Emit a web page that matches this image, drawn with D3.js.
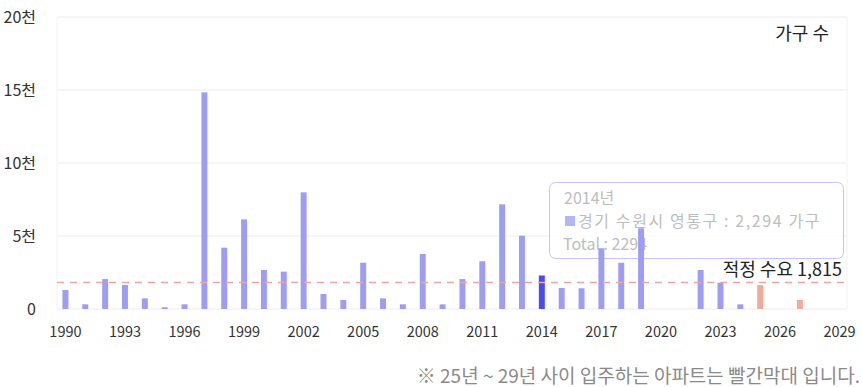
<!DOCTYPE html>
<html>
<head>
<meta charset="utf-8">
<script src="https://cdn.jsdelivr.net/npm/d3@7"></script>
<style>
  body { margin: 0; background: #fff; }
  text { font-family: "Noto Sans CJK KR", "Noto Sans", sans-serif; }
</style>
</head>
<body>
<div class="chart"></div>
<script>
// data
let years = d3.range(1990, 2030);
let households = [1300, 320, 2050, 1650, 730, 120, 320, 14840, 4200, 6140,
  2670, 2560, 7990, 1030, 620, 3170, 730, 320, 3770, 320,
  2050, 3270, 7170, 5020, 2294, 1440, 1420, 4160, 3170, 5530,
  0, 0, 2670, 1800, 320, 1640, 0, 620, 0, 0];
let futureYears = [2025, 2026, 2027, 2028, 2029];
let highlightYear = 2014;
let demand = 1815;
let yTicks = [0, 5000, 10000, 15000, 20000];
let xTickYears = [1990, 1993, 1996, 1999, 2002, 2005, 2008, 2011, 2014, 2017, 2020, 2023, 2026, 2029];

let svgWidth = 862;
let svgHeight = 387;
let plot = { left: 57, right: 847, top: 17, bottom: 309 };

let svg = d3.select(".chart")
    .append("svg")
    .attr("width", svgWidth)
    .attr("height", svgHeight);

let x = d3.scaleBand()
    .domain(years)
    .range([55.5, 849.5])
    .paddingInner(0.7)
    .paddingOuter(0.35);

let y = d3.scaleLinear()
    .domain([0, 20000])
    .range([plot.bottom, plot.top]);

// grid
svg.append("g")
    .selectAll("line")
    .data(yTicks)
    .enter()
    .append("line")
    .attr("x1", plot.left)
    .attr("x2", plot.right)
    .attr("y1", d => y(d))
    .attr("y2", d => y(d))
    .attr("stroke", "#ececec");

svg.append("line")
    .attr("x1", plot.left).attr("x2", plot.left)
    .attr("y1", plot.top).attr("y2", plot.bottom)
    .attr("stroke", "#f2f2f2");
svg.append("line")
    .attr("x1", plot.right).attr("x2", plot.right)
    .attr("y1", plot.top).attr("y2", plot.bottom)
    .attr("stroke", "#f2f2f2");

// y axis
let leftAxis = d3.axisLeft(y)
    .tickValues(yTicks)
    .tickSize(0)
    .tickPadding(0)
    .tickFormat(d => d === 0 ? "0" : (d / 1000) + "천");

svg.append("g")
    .attr("transform", "translate(36, 0)")
    .call(leftAxis)
    .call(g => g.select(".domain").remove())
    .selectAll("text")
    .attr("font-size", 16)
    .attr("fill", "#333")
    .style("font-family", "'Noto Sans CJK KR', sans-serif");

// x axis
let bottomAxis = d3.axisBottom(x)
    .tickValues(xTickYears)
    .tickSize(0)
    .tickPadding(0);

svg.append("g")
    .attr("transform", "translate(0, 327)")
    .call(bottomAxis)
    .call(g => g.select(".domain").remove())
    .selectAll("text")
    .attr("font-size", 14.5)
    .attr("fill", "#333")
    .style("font-family", "'Noto Sans CJK KR', sans-serif");

// tooltip (drawn under bars)
let tipFont = { size: 16, spacing: 1.6, color: "#bdbdbd" };
let tip = svg.append("g");
tip.append("rect")
    .attr("x", 549.5).attr("y", 182.5)
    .attr("width", 294).attr("height", 76)
    .attr("rx", 6)
    .attr("fill", "#fff")
    .attr("fill-opacity", 0.8)
    .attr("stroke", "#c4c4fa");
tip.append("text")
    .attr("x", 564).attr("y", 204)
    .attr("font-size", tipFont.size)
    .attr("fill", tipFont.color)
    .text(highlightYear + "년");
tip.append("rect")
    .attr("x", 565).attr("y", 216)
    .attr("width", 10).attr("height", 10)
    .attr("fill", "#b4b4f8");
tip.append("text")
    .attr("x", 578).attr("y", 227)
    .attr("font-size", tipFont.size)
    .attr("letter-spacing", tipFont.spacing)
    .attr("fill", tipFont.color)
    .text("경기 수원시 영통구 : " + d3.format(",")(households[years.indexOf(highlightYear)]) + " 가구");
tip.append("text")
    .attr("x", 563).attr("y", 250)
    .attr("font-size", tipFont.size)
    .attr("fill", tipFont.color)
    .text("Total : " + households[years.indexOf(highlightYear)]);

// bars
svg.append("g")
    .selectAll("rect")
    .data(years)
    .enter()
    .append("rect")
    .attr("x", d => x(d))
    .attr("width", x.bandwidth())
    .attr("y", (d, i) => y(households[i]))
    .attr("height", (d, i) => y(0) - y(households[i]))
    .attr("fill", d => d === highlightYear ? "#4a4af2"
        : futureYears.includes(d) ? "#f2aa9c" : "#9d9df5");

// demand line
svg.append("line")
    .attr("x1", plot.left)
    .attr("x2", plot.right)
    .attr("y1", y(demand))
    .attr("y2", y(demand))
    .attr("stroke", "#f0a4a4")
    .attr("stroke-width", 1.5)
    .attr("stroke-dasharray", "7,6");

svg.append("text")
    .attr("x", 842)
    .attr("y", y(demand) - 7)
    .attr("text-anchor", "end")
    .attr("font-size", 18)
    .attr("fill", "#222")
    .text("적정 수요 " + d3.format(",")(demand));

svg.append("text")
    .attr("x", 829)
    .attr("y", 40)
    .attr("text-anchor", "end")
    .attr("font-size", 18)
    .attr("fill", "#222")
    .text("가구 수");

svg.append("text")
    .attr("x", 860)
    .attr("y", 383)
    .attr("text-anchor", "end")
    .attr("font-size", 19)
    .attr("fill", "#8a8a8a")
    .text("※ 25년 ~ 29년 사이 입주하는 아파트는 빨간막대 입니다.");
</script>
</body>
</html>
